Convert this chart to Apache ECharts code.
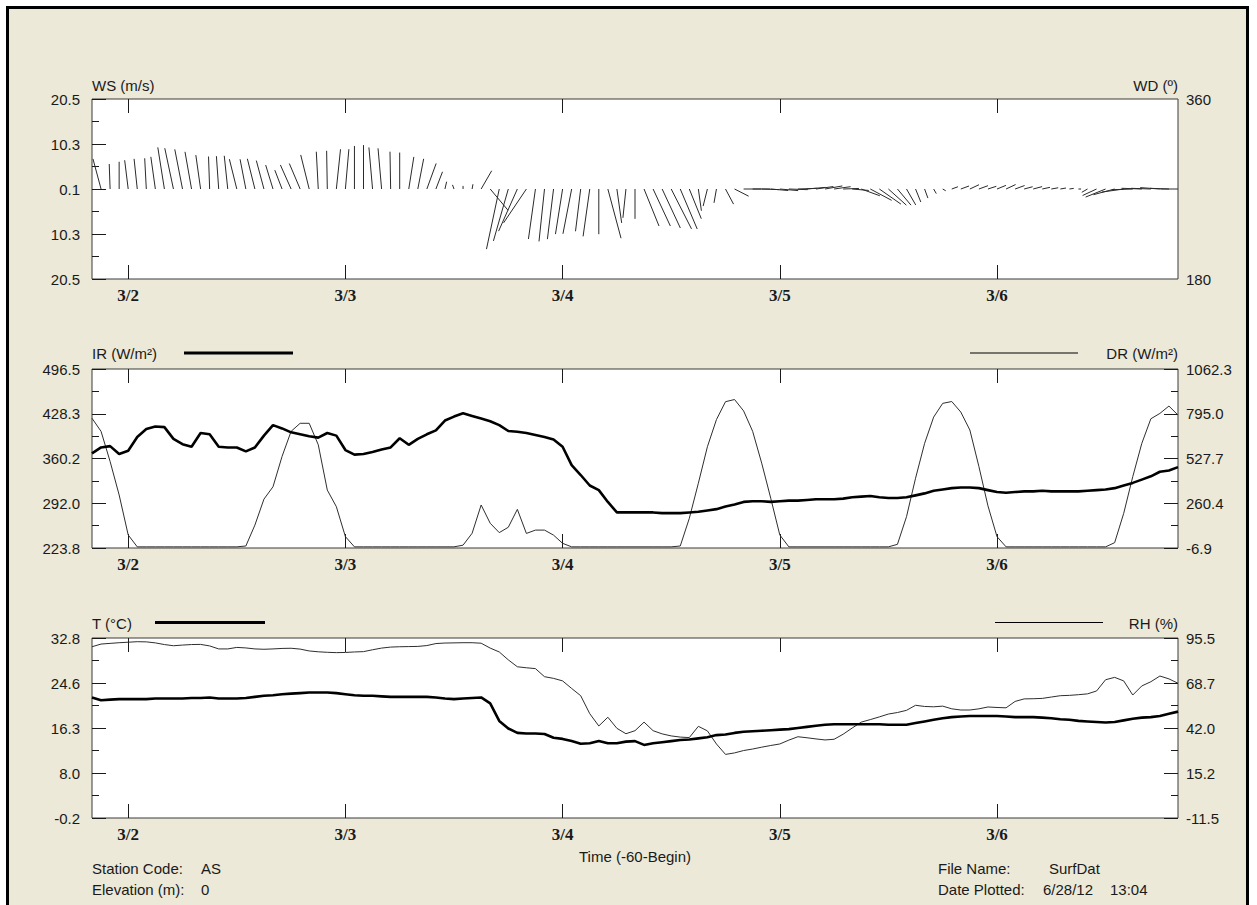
<!DOCTYPE html>
<html>
<head>
<meta charset="utf-8">
<script src="https://cdn.jsdelivr.net/npm/echarts@6/dist/echarts.min.js"></script>
<style>
  html, body { margin: 0; padding: 0; background: #ffffff; }
  #frame { position: absolute; left: 6px; top: 6px; width: 1243px; height: 920px;
           background: #ECE9D8; border: 3px solid #000; box-sizing: border-box; }
  #chart { position: absolute; left: 0; top: 0; width: 1257px; height: 905px; }
</style>
</head>
<body>
<div id="frame"></div>
<div id="chart"></div>
<script>
// Hourly surface record, 3/1 20:00 through 3/6 20:00 (index = hours since 3/1 20:00)
const DAY_TICKS = [4, 28, 52, 76, 100];
const DAY_LABELS = ['3/2', '3/3', '3/4', '3/5', '3/6'];

// Wind speed (m/s) and direction (deg) for the stick plot
const WS = [
  null, 7.1, 5.7, 6.2, 6.6, 6.9, 7.0, 7.4, 9.6, 9.5,
  9.2, 8.6, 7.8, 7.4, 7.5, 7.6, 7.0, 6.9, 7.1, 6.7,
  5.7, 4.6, 6.0, 6.3, 8.0, 8.5, 8.7, 9.1, 9.1, 9.8,
  10.0, 9.5, 9.3, 8.5, 8.3, 7.4, 7.0, 6.2, 4.2, 1.7,
  1.0, 0.7, 1.1, 4.8, 6.3, 14.0, 12.3, 10.5, 9.3, 11.5,
  12.0, 11.5, 10.4, 10.4, 9.7, 10.9, 10.3, 11.6, 7.8, 6.6,
  6.8, 9.1, 9.3, 9.8, 10.2, 9.9, 7.3, 5.0, 4.0, 3.2,
  3.9, 3.6, 4.0, 4.0, 4.0, 4.0, 4.2, 4.3, 4.3, 4.2,
  4.0, 4.0, 3.8, 3.6, 3.8, 4.5, 5.5, 6.0, 5.5, 4.8,
  4.2, 3.2, 2.2, 1.2, 0.8, 1.5, 2.0, 2.3, 2.2, 2.0,
  2.2, 2.4, 2.3, 2.0, 2.1, 1.8, 1.6, 1.3, 1.0, 0.6,
  1.5, 3.5, 4.9, 5.0, 5.0, 4.8, 4.6, 4.5, 4.5, 4.3,
  4.0
];
const WD = [
  null, 345, 358, 0, 353, 354, 357, 352, 351, 348,
  349, 350, 352, 358, 356, 354, 346, 349, 346, 345,
  343, 339, 336, 337, 346, 357, 359, 6, 5, 0,
  0, 355, 355, 359, 0, 9, 11, 20, 21, 13,
  340, 0, 10, 30, 140, 192, 196, 204, 214, 188,
  186, 187, 189, 191, 187, 188, 180, 165, 172, 186,
  180, 158, 155, 155, 153, 157, 158, 172, 194, 190,
  152, 117, 90, 90, 92, 95, 95, 92, 88, 85,
  82, 80, 82, 88, 95, 110, 118, 125, 132, 140,
  150, 158, 160, 150, 120, 70, 70, 65, 70, 72,
  68, 65, 70, 75, 75, 78, 80, 80, 82, 90,
  240, 245, 248, 255, 262, 268, 272, 272, 274, 272,
  270
];

// Infrared (W/m²)
const IR = [
  368, 377, 379, 367, 372, 393, 405, 409, 408, 390,
  382, 378, 399, 397, 378, 377, 377, 371, 377, 395,
  411, 406, 400, 397, 394, 392, 399, 395, 373, 366,
  367, 370, 374, 377, 391, 381, 390, 397, 403, 418,
  424, 429, 425, 421, 417, 411, 402, 401, 399, 396,
  393, 389, 378, 350, 335, 319, 312, 294, 278, 278,
  278, 278, 278, 277, 277, 277, 278, 279, 281, 283,
  287, 290, 294, 295, 295, 294, 295, 296, 296, 297,
  298, 298, 298, 299, 301, 302, 303, 301, 300, 300,
  301, 304, 307, 311, 313, 315, 316, 316, 315, 312,
  309, 308, 309, 310, 310, 311, 310, 310, 310, 310,
  311, 312, 313, 315, 319, 323, 328, 333, 340, 342,
  347
];

// Direct (solar) radiation (W/m²)
const DR = [
  768, 690, 510, 310, 71, 0, 0, 0, 0, 0,
  0, 0, 0, 0, 0, 0, 0, 5, 130, 285,
  359, 540, 690, 738, 738, 610, 339, 240, 61, 0,
  0, 0, 0, 0, 0, 0, 0, 0, 0, 0,
  0, 10, 81, 250, 141, 85, 117, 224, 80, 100,
  100, 70, 21, 0, 0, 0, 0, 0, 0, 0,
  0, 0, 0, 0, 0, 5, 170, 380, 598, 760,
  867, 880, 812, 690, 500, 290, 71, 0, 0, 0,
  0, 0, 0, 0, 0, 0, 0, 0, 0, 15,
  180, 410, 618, 775, 857, 868, 805, 698, 480, 245,
  61, 0, 0, 0, 0, 0, 0, 0, 0, 0,
  0, 0, 0, 25, 200, 419, 618, 765, 797, 841,
  787
];

// Air temperature (°C)
const T = [
  21.9, 21.4, 21.5, 21.6, 21.6, 21.6, 21.6, 21.7, 21.7, 21.7,
  21.7, 21.8, 21.8, 21.9, 21.7, 21.7, 21.7, 21.8, 22.0, 22.2,
  22.3, 22.5, 22.6, 22.7, 22.8, 22.8, 22.8, 22.7, 22.5, 22.3,
  22.2, 22.2, 22.1, 22.0, 22.0, 22.0, 22.0, 22.0, 21.9, 21.7,
  21.6, 21.7, 21.8, 21.9, 20.8, 17.6, 16.2, 15.4, 15.3, 15.3,
  15.2, 14.5, 14.3, 13.9, 13.4, 13.5, 13.9, 13.5, 13.5, 13.8,
  13.9, 13.2, 13.5, 13.7, 13.9, 14.1, 14.2, 14.4, 14.6, 15.0,
  15.1, 15.4, 15.6, 15.7, 15.8, 15.9, 16.0, 16.1, 16.3, 16.5,
  16.7, 16.9, 17.0, 17.0, 17.0, 17.0, 17.0, 17.0, 16.9, 16.9,
  16.9, 17.2, 17.5, 17.8, 18.1, 18.3, 18.4, 18.5, 18.5, 18.5,
  18.5, 18.4, 18.3, 18.3, 18.3, 18.2, 18.1, 17.9, 17.8, 17.6,
  17.5, 17.4, 17.3, 17.4, 17.7, 18.0, 18.2, 18.3, 18.5, 18.9,
  19.3
];

// Relative humidity (%)
const RH = [
  90.3, 91.9, 92.3, 92.7, 93.0, 93.3, 93.2, 92.6, 91.6, 90.9,
  91.3, 91.6, 91.7, 90.8, 89.0, 89.0, 89.9, 89.6, 89.0, 88.8,
  89.0, 89.3, 89.4, 88.9, 87.8, 87.3, 87.0, 86.8, 86.9, 87.2,
  87.4, 88.5, 89.5, 90.1, 90.3, 90.4, 90.5, 91.0, 92.2, 92.5,
  92.6, 92.7, 92.7, 92.4, 89.5, 87.2, 82.5, 78.4, 77.8, 77.3,
  72.5, 71.5, 70.0, 65.5, 61.2, 50.5, 43.2, 48.4, 41.8, 38.6,
  40.4, 45.5, 40.4, 38.5, 37.3, 36.6, 36.3, 43.0, 40.3, 32.5,
  26.3, 27.2, 28.6, 29.5, 30.6, 31.6, 32.5, 34.8, 36.8, 36.2,
  35.5, 34.9, 35.3, 38.3, 42.0, 45.5, 47.0, 48.6, 50.3, 51.2,
  52.5, 55.5, 54.8, 54.6, 55.0, 53.4, 52.7, 52.7, 53.4, 54.5,
  54.2, 54.0, 57.8, 59.3, 59.4, 59.6, 60.4, 61.2, 61.4, 61.8,
  62.3, 64.0, 70.7, 72.1, 70.0, 61.6, 67.0, 69.5, 72.9, 71.2,
  68.6
];

// Axis ranges and their tick labels (bottom to top)
const WS_RANGE = [-20.5, 20.5];
const WS_LABELS = ['20.5', '10.3', '0.1', '10.3', '20.5'];
const WD_RANGE = [180, 360];
const WD_LABELS = ['180', '360'];
const IR_RANGE = [223.8, 496.5];
const IR_LABELS = ['223.8', '292.0', '360.2', '428.3', '496.5'];
const DR_RANGE = [-6.9, 1062.3];
const DR_LABELS = ['-6.9', '260.4', '527.7', '795.0', '1062.3'];
const T_RANGE = [-0.2, 32.8];
const T_LABELS = ['-0.2', '8.0', '16.3', '24.6', '32.8'];
const RH_RANGE = [-11.5, 95.5];
const RH_LABELS = ['-11.5', '15.2', '42.0', '68.7', '95.5'];

const SANS = '"Liberation Sans", Arial, sans-serif';
const SERIF = '"Liberation Serif", "Times New Roman", serif';
const INK = '#1a1a1a';

const pairs = arr => arr.map((v, i) => [i, v]);

function evenTicks(range, n) {
  const out = [];
  for (let k = 0; k < n; k++) out.push(range[0] + (range[1] - range[0]) * k / (n - 1));
  return out;
}

function labelLookup(values, labels) {
  return v => {
    for (let i = 0; i < values.length; i++) {
      if (Math.abs(values[i] - v) < 1e-6) return labels[i];
    }
    return '';
  };
}

function xAxesFor(gridIndex) {
  const common = {
    type: 'value', gridIndex, min: 0, max: 120,
    axisLine: { show: false, onZero: false }, splitLine: { show: false }
  };
  return [
    Object.assign({}, common, {
      position: 'bottom',
      axisTick: { show: true, inside: true, length: 14, customValues: DAY_TICKS,
                  lineStyle: { color: INK, width: 1 } },
      axisLabel: { show: true, customValues: DAY_TICKS, margin: 8,
                   formatter: labelLookup(DAY_TICKS, DAY_LABELS),
                   fontFamily: SERIF, fontWeight: 'bold', fontSize: 17, color: INK }
    }),
    Object.assign({}, common, {
      position: 'top',
      axisTick: { show: true, inside: true, length: 14, customValues: DAY_TICKS,
                  lineStyle: { color: INK, width: 1 } },
      axisLabel: { show: false, customValues: DAY_TICKS }
    })
  ];
}

// A labelled major-tick axis plus an unlabelled minor-tick axis on one side
function yAxesFor(gridIndex, position, range, labels, margin) {
  const major = evenTicks(range, labels.length);
  const minor = major.slice(1).map((t, i) => (t + major[i]) / 2);
  const common = {
    type: 'value', gridIndex, position, min: range[0], max: range[1],
    axisLine: { show: false, onZero: false }, splitLine: { show: false }
  };
  return [
    Object.assign({}, common, {
      axisTick: { show: true, inside: true, length: 14, customValues: major,
                  lineStyle: { color: INK, width: 1 } },
      axisLabel: { show: true, customValues: major, margin,
                   formatter: labelLookup(major, labels),
                   fontFamily: SANS, fontSize: 15, color: INK }
    }),
    Object.assign({}, common, {
      axisTick: { show: true, inside: true, length: 7, customValues: minor,
                  lineStyle: { color: INK, width: 1 } },
      axisLabel: { show: false, customValues: minor }
    })
  ];
}

const grids = [
  { left: 92, right: 79, top: 99, height: 180 },
  { left: 92, right: 79, top: 369, height: 179 },
  { left: 92, right: 79, top: 638, height: 180 }
].map(g => Object.assign(g, { show: true, backgroundColor: '#ffffff',
                              borderColor: '#3a3a3a', borderWidth: 1 }));

const xAxis = [].concat(xAxesFor(0), xAxesFor(1), xAxesFor(2));

const yAxis = [].concat(
  yAxesFor(0, 'left', WS_RANGE, WS_LABELS, 12),                 // 0,1
  [{ type: 'value', gridIndex: 0, position: 'right',            // 2
     min: WD_RANGE[0], max: WD_RANGE[1],
     axisLine: { show: false, onZero: false }, splitLine: { show: false },
     axisTick: { show: false },
     axisLabel: { show: true, customValues: WD_RANGE, margin: 8,
                  formatter: labelLookup(WD_RANGE, WD_LABELS),
                  fontFamily: SANS, fontSize: 15, color: INK } }],
  yAxesFor(1, 'left', IR_RANGE, IR_LABELS, 12),                 // 3,4
  yAxesFor(1, 'right', DR_RANGE, DR_LABELS, 8),                 // 5,6
  yAxesFor(2, 'left', T_RANGE, T_LABELS, 12),                   // 7,8
  yAxesFor(2, 'right', RH_RANGE, RH_LABELS, 8)                  // 9,10
);

const windData = [];
WS.forEach((s, i) => { if (s != null) windData.push([i, s, WD[i]]); });

const series = [
  {
    name: 'Wind', type: 'custom', xAxisIndex: 0, yAxisIndex: 0, clip: true,
    data: windData,
    encode: { x: 0, y: 1 },
    renderItem(params, api) {
      const base = api.coord([api.value(0), 0]);
      const unit = api.size([0, 1])[1];          // pixels per m/s
      const len = api.value(1) * unit;
      const rad = api.value(2) * Math.PI / 180;
      return {
        type: 'line',
        shape: { x1: base[0], y1: base[1],
                 x2: base[0] + len * Math.sin(rad), y2: base[1] - len * Math.cos(rad) },
        style: { stroke: '#2a2a2a', lineWidth: 1 }
      };
    }
  },
  { name: 'DR', type: 'line', xAxisIndex: 2, yAxisIndex: 5, data: pairs(DR),
    showSymbol: false, lineStyle: { color: '#2e2e2e', width: 1 }, z: 2 },
  { name: 'IR', type: 'line', xAxisIndex: 2, yAxisIndex: 3, data: pairs(IR),
    showSymbol: false, lineStyle: { color: '#000000', width: 2.6 }, z: 3 },
  { name: 'RH', type: 'line', xAxisIndex: 4, yAxisIndex: 9, data: pairs(RH),
    showSymbol: false, lineStyle: { color: '#2e2e2e', width: 1 }, z: 2 },
  { name: 'T', type: 'line', xAxisIndex: 4, yAxisIndex: 7, data: pairs(T),
    showSymbol: false, lineStyle: { color: '#000000', width: 2.6 }, z: 3 }
];

function text(x, y, str, align, extra) {
  return Object.assign({
    type: 'text', x, y, silent: true,
    style: { text: str, fill: INK, font: '15px ' + SANS, textAlign: align || 'left',
             textVerticalAlign: 'middle' }
  }, extra || {});
}
function swatch(x1, x2, y, width) {
  return { type: 'line', silent: true,
           shape: { x1, y1: y, x2, y2: y },
           style: { stroke: '#000', lineWidth: width } };
}

const graphic = [
  text(92, 85, 'WS (m/s)'),
  text(1178, 85, 'WD (º)', 'right'),
  text(92, 353, 'IR (W/m²)'),
  swatch(184, 293, 353, 3),
  text(1178, 353, 'DR (W/m²)', 'right'),
  swatch(970, 1078, 353, 1),
  text(92, 623, 'T (°C)'),
  swatch(155, 265, 622.5, 3),
  text(1178, 623, 'RH (%)', 'right'),
  swatch(995, 1103, 622.5, 1),
  text(635, 856, 'Time (-60-Begin)', 'center'),
  text(92, 868, 'Station Code:'),
  text(201, 868, 'AS'),
  text(92, 889, 'Elevation (m):'),
  text(201, 889, '0'),
  text(938, 868, 'File Name:'),
  text(1049, 868, 'SurfDat'),
  text(938, 889, 'Date Plotted:'),
  text(1043, 889, '6/28/12'),
  text(1110, 889, '13:04')
];

const chart = echarts.init(document.getElementById('chart'), null, { renderer: 'svg' });
chart.setOption({
  backgroundColor: 'transparent',
  animation: false,
  grid: grids,
  xAxis,
  yAxis,
  series,
  graphic
});
</script>
</body>
</html>
